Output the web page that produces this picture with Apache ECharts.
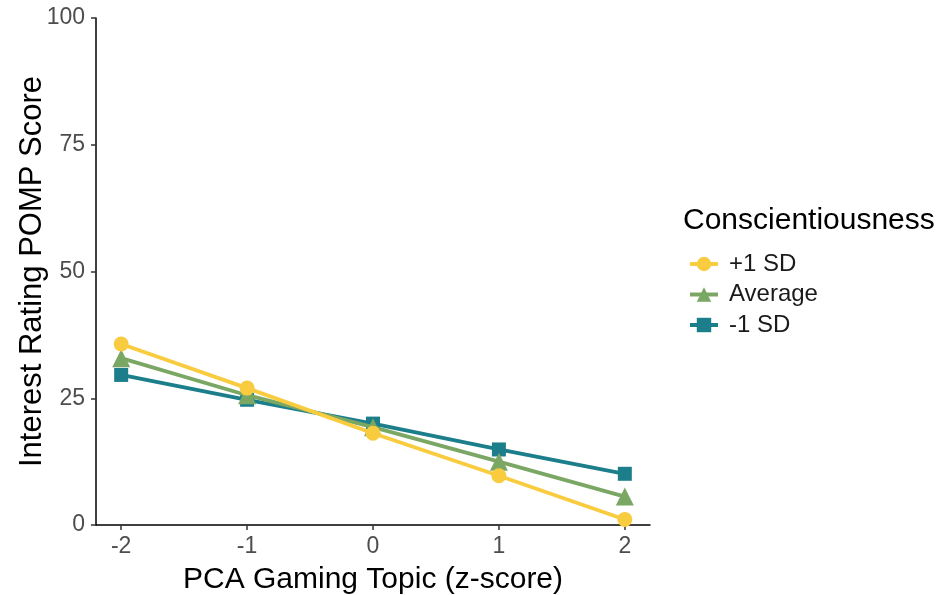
<!DOCTYPE html>
<html>
<head>
<meta charset="utf-8">
<script src="https://cdn.jsdelivr.net/npm/echarts@6/dist/echarts.min.js"></script>
<style>
  html, body { margin: 0; padding: 0; background: #fff; }
  #chart { width: 943px; height: 595px; }
</style>
</head>
<body>
<div id="chart"></div>
<script>
// PCA gaming topic z-scores on the x axis
const xValues = [-2, -1, 0, 1, 2];
const xTicks = [-2, -1, 0, 1, 2];
const yTicks = [0, 25, 50, 75, 100];

// Predicted interest rating (POMP) per conscientiousness level
const seriesNames = ['+1 SD', 'Average', '-1 SD'];
const plusOneSD = [35.7, 27.0, 18.1, 9.7, 1.1];
const average = [32.9, 25.6, 19.3, 12.5, 5.6];
const minusOneSD = [29.6, 24.7, 20.0, 14.9, 10.1];

const colors = ['#F9CB3F', '#7AA763', '#1C7E8B'];
const symbols = ['circle', 'triangle', 'rect'];
const symbolSizes = [15, 18, 14];
const valueSets = [plusOneSD, average, minusOneSD];

const font = 'Liberation Sans, Arial, Helvetica, sans-serif';

const series = seriesNames.map((name, i) => ({
  name: name,
  type: 'line',
  data: xValues.map((x, j) => [x, valueSets[i][j]]),
  symbol: symbols[i],
  symbolSize: symbolSizes[i],
  showSymbol: true,
  lineStyle: { width: 3.8, color: colors[i] },
  itemStyle: { color: colors[i], borderWidth: 0 },
  emphasis: { disabled: true },
  z: 3 - i
}));

const chart = echarts.init(document.getElementById('chart'), null, { renderer: 'canvas' });
chart.setOption({
  backgroundColor: '#ffffff',
  animation: false,
  grid: { left: 96, right: 293, top: 18, bottom: 70, containLabel: false, outerBoundsMode: 'none' },
  title: {
    text: 'Conscientiousness',
    left: 678,
    top: 201,
    textStyle: { fontFamily: font, fontSize: 30, fontWeight: 'normal', color: '#000' }
  },
  legend: {
    orient: 'vertical',
    left: 683,
    top: 247,
    itemWidth: 28,
    itemHeight: 18,
    itemGap: 6.5,
    data: seriesNames,
    lineStyle: { width: 4 },
    textStyle: { fontFamily: font, fontSize: 24, color: '#1a1a1a', lineHeight: 20, padding: [0, 0, 0, 6] }
  },
  xAxis: {
    type: 'value',
    min: -2.2,
    max: 2.2,
    name: 'PCA Gaming Topic (z-score)',
    nameLocation: 'middle',
    nameGap: 40,
    nameMoveOverlap: false,
    nameTextStyle: { fontFamily: font, fontSize: 30, color: '#000' },
    axisLine: { show: true, onZero: false, lineStyle: { color: '#000', width: 1.5 } },
    axisTick: { show: true, length: 5, customValues: xTicks, lineStyle: { color: '#333', width: 1.5 } },
    axisLabel: { customValues: xTicks, margin: 10, fontFamily: font, fontSize: 23, color: '#4D4D4D' },
    splitLine: { show: false }
  },
  yAxis: {
    type: 'value',
    min: 0,
    max: 100,
    interval: 25,
    name: 'Interest Rating POMP Score',
    nameLocation: 'middle',
    nameGap: 48,
    nameMoveOverlap: false,
    nameTextStyle: { fontFamily: font, fontSize: 31, color: '#000' },
    axisLine: { show: true, onZero: false, lineStyle: { color: '#000', width: 1.5 } },
    axisTick: { show: true, length: 5, lineStyle: { color: '#333', width: 1.5 } },
    axisLabel: { margin: 11, fontFamily: font, fontSize: 23, color: '#4D4D4D' },
    splitLine: { show: false }
  },
  series: series
});
</script>
</body>
</html>
